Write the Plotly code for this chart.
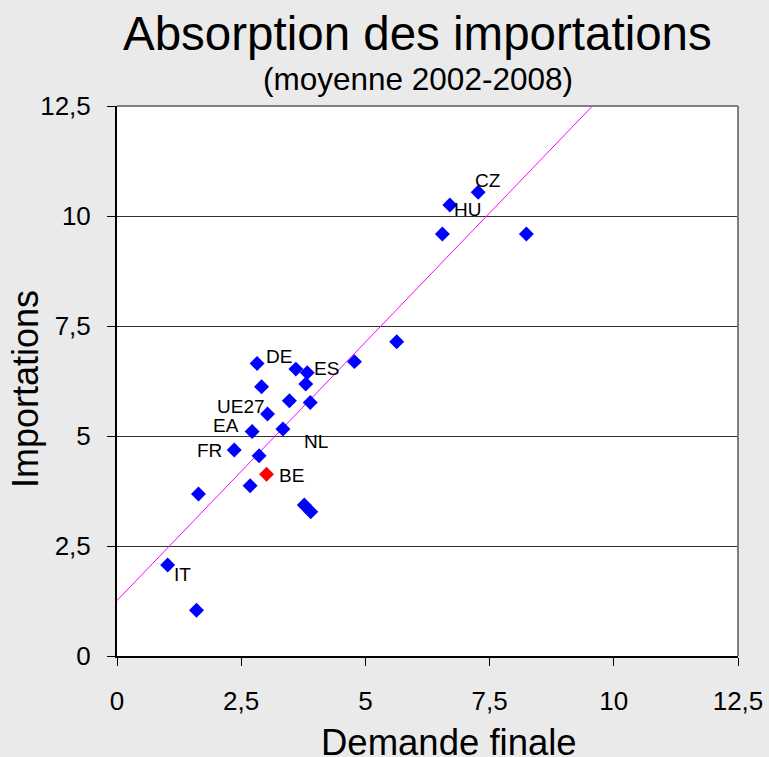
import plotly.graph_objects as go

# ---- data ----
demande = [1.02, 1.60, 1.64, 2.36, 2.72, 3.03, 2.82, 2.91, 3.47, 3.60, 3.83, 3.80, 3.89,
           3.34, 2.86, 3.01, 2.68, 3.77, 3.90, 4.78, 5.63, 7.27, 6.70, 6.55, 8.24]
importations = [2.07, 1.04, 3.68, 4.68, 5.10, 5.50, 6.65, 6.12, 5.80, 6.52, 6.44, 6.18, 5.76,
                5.16, 4.55, 4.13, 3.87, 3.43, 3.28, 6.69, 7.14, 10.54, 10.25, 9.59, 9.59]
pays = ["IT", "", "", "FR", "EA", "UE27", "DE", "", "", "", "ES", "", "",
        "NL", "", "BE", "", "", "", "", "", "CZ", "HU", "", ""]
highlight = "BE"

trend_intercept = 1.26
trend_slope = 1.1745
trend_x = [0, 12.5]

tick_vals = [0, 2.5, 5, 7.5, 10, 12.5]
tick_text = ["0", "2,5", "5", "7,5", "10", "12,5"]

# ---- styling ----
FONT = "Liberation Sans, Arial, sans-serif"
BLUE = "#0000FF"
RED = "#FF0000"
label_style = {
    "DE": dict(xanchor="left", xshift=7, yshift=7),
    "ES": dict(xanchor="left", xshift=5, yshift=4),
    "UE27": dict(xanchor="right", xshift=-1, yshift=8),
    "EA": dict(xanchor="right", xshift=-11, yshift=6),
    "FR": dict(xanchor="right", xshift=-10, yshift=0),
    "NL": dict(xanchor="left", xshift=19, yshift=-13),
    "BE": dict(xanchor="left", xshift=10, yshift=-1),
    "CZ": dict(xanchor="left", xshift=-5, yshift=12),
    "HU": dict(xanchor="left", xshift=2, yshift=-4),
    "IT": dict(xanchor="left", xshift=4, yshift=-10),
}

colors = [RED if p == highlight else BLUE for p in pays]
trend_y = [trend_intercept + trend_slope * x for x in trend_x]

fig = go.Figure()
fig.add_trace(go.Scatter(x=trend_x, y=trend_y, mode="lines",
                         line=dict(color="#FF00FF", width=1), hoverinfo="skip",
                         showlegend=False))
fig.add_trace(go.Scatter(x=demande, y=importations, mode="markers",
                         marker=dict(symbol="diamond", size=11.5, color=colors,
                                     line=dict(width=0)),
                         showlegend=False, cliponaxis=False))

annotations = []
for x, y, p in zip(demande, importations, pays):
    if p:
        st = label_style[p]
        annotations.append(dict(x=x, y=y, xref="x", yref="y", text=p, showarrow=False,
                                font=dict(family=FONT, size=19, color="black"),
                                yanchor="middle", **st))

annotations += [
    dict(text="Absorption des importations", x=0.484, y=1.131, xref="paper", yref="paper",
         showarrow=False, font=dict(family=FONT, size=47.5, color="black"),
         xanchor="center", yanchor="middle"),
    dict(text="(moyenne 2002-2008)", x=0.484, y=1.049, xref="paper", yref="paper",
         showarrow=False, font=dict(family=FONT, size=31.5, color="black"),
         xanchor="center", yanchor="middle"),
    dict(text="Demande finale", x=0.5346, y=-0.158, xref="paper", yref="paper",
         showarrow=False, font=dict(family=FONT, size=36.5, color="black"),
         xanchor="center", yanchor="middle"),
    dict(text="Importations", x=-0.1465, y=0.4855, xref="paper", yref="paper",
         showarrow=False, textangle=-90, font=dict(family=FONT, size=36, color="black"),
         xanchor="center", yanchor="middle"),
]

fig.update_layout(
    width=769, height=757,
    margin=dict(l=117, r=31, t=106, b=101, autoexpand=False),
    paper_bgcolor="#EAEAEA", plot_bgcolor="white",
    separators=", ",
    showlegend=False,
    annotations=annotations,
    shapes=[
        dict(type="line", xref="paper", yref="paper", x0=0, x1=1, y0=1, y1=1,
             line=dict(color="#808080", width=2)),
        dict(type="line", xref="paper", yref="paper", x0=1, x1=1, y0=0, y1=1,
             line=dict(color="#808080", width=2)),
    ],
    xaxis=dict(range=[0, 12.5], tickvals=tick_vals, ticktext=tick_text,
               showgrid=False, zeroline=False, showline=True, linecolor="black",
               linewidth=2, ticks="outside", ticklen=8, tickcolor="black", tickwidth=1,
               tickfont=dict(family=FONT, size=26, color="black"),
               ticklabelstandoff=13, fixedrange=True, automargin=False),
    yaxis=dict(range=[0, 12.5], tickvals=tick_vals, ticktext=tick_text,
               showgrid=True, gridcolor="#303030", gridwidth=1,
               zeroline=False, showline=True, linecolor="black",
               linewidth=2, ticks="outside", ticklen=8, tickcolor="black", tickwidth=1,
               tickfont=dict(family=FONT, size=26, color="black"),
               ticklabelstandoff=11, fixedrange=True, automargin=False),
)

fig.write_html("out.html", config={"displayModeBar": False},
               post_script="document.body.style.margin='0';document.body.style.padding='0';")
